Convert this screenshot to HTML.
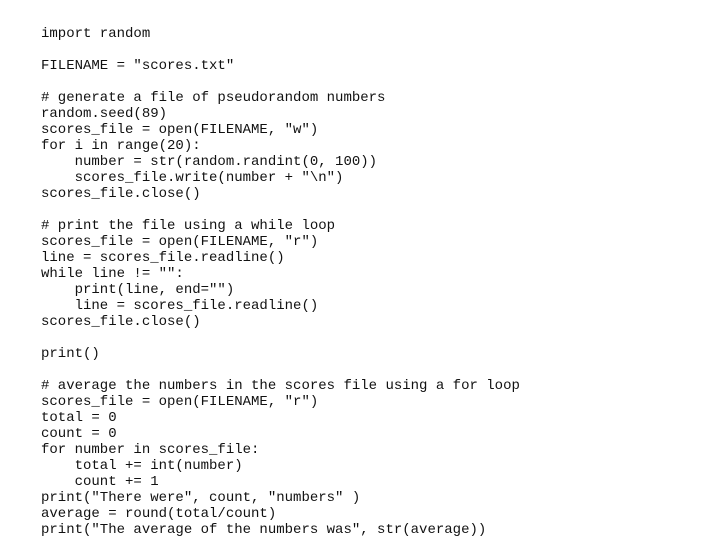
<!DOCTYPE html>
<html><head><meta charset="utf-8"><style>
html,body{margin:0;padding:0;background:#fff;width:720px;height:550px;overflow:hidden}
pre{position:absolute;left:41px;top:26px;margin:0;font-family:"Liberation Mono",monospace;font-size:14px;line-height:16px;color:#111}
</style></head><body><pre>import random

FILENAME = "scores.txt"

# generate a file of pseudorandom numbers
random.seed(89)
scores_file = open(FILENAME, "w")
for i in range(20):
    number = str(random.randint(0, 100))
    scores_file.write(number + "\n")
scores_file.close()

# print the file using a while loop
scores_file = open(FILENAME, "r")
line = scores_file.readline()
while line != "":
    print(line, end="")
    line = scores_file.readline()
scores_file.close()

print()

# average the numbers in the scores file using a for loop
scores_file = open(FILENAME, "r")
total = 0
count = 0
for number in scores_file:
    total += int(number)
    count += 1
print("There were", count, "numbers" )
average = round(total/count)
print("The average of the numbers was", str(average))</pre></body></html>
